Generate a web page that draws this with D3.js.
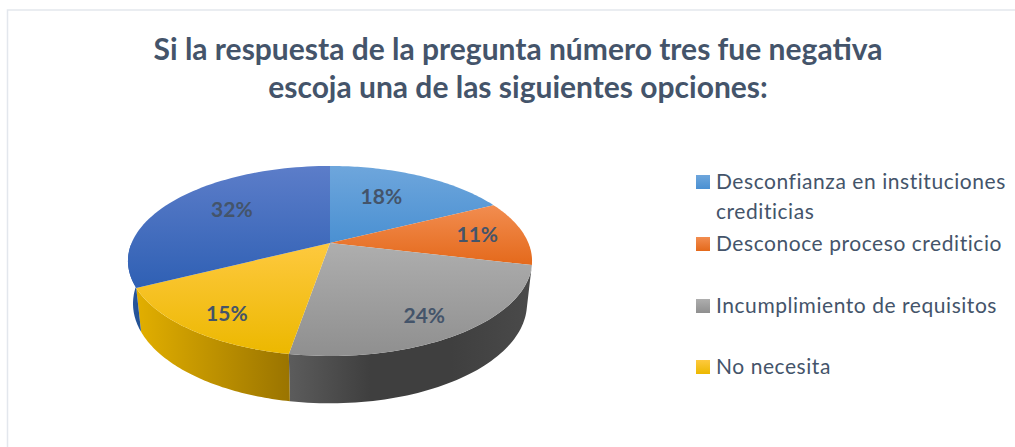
<!DOCTYPE html>
<html><head><meta charset="utf-8">
<script src="https://cdn.jsdelivr.net/npm/d3@7"></script>
<style>html,body{margin:0;padding:0;background:#fff}svg{display:block}text{font-family:Lato,"Open Sans",sans-serif;fill:#44546a}</style>
</head><body><svg id="c" width="1015" height="447"></svg>
<script>
const titleLines=["Si la respuesta de la pregunta número tres fue negativa","escoja una de las siguientes opciones:"];
const legendLines=[["Desconfianza en instituciones","crediticias"],["Desconoce proceso crediticio"],["Incumplimiento de requisitos"],["No necesita"]];
const values=[17.6,11.1,24,14.9,32.4];
const topColors=[["#6ea6dc","#4a90d2"],["#f28d50","#e4691b"],["#aeaeae","#8f8f8f"],["#fec93f","#ecb800"],["#5c7dc9","#2f60b4"]];
const wallColors=[null,null,["#5c5c5c","#3f3f3f","#3f3f3f","#4a4a4a"],["#e2af00","#9a7400"],["#2a5aa8","#23508f"]];
const labelNudge=[[-10,0],[21,-1],[15,18],[-18,18],[5,-4]];

const svg=d3.select("#c");
const defs=svg.append("defs");
const cx=330,cy=243,A=198.4,B=91.6,K=0.189;
function proj(a,r=1){const X=r*Math.sin(a),Y=-r*Math.cos(a),w=1-K*Y;return [cx+A*X/w,cy+B*Y/w];}
function low(p){return [cx+(p[0]-cx)*0.975,p[1]+44+(p[1]-288)*0.05];}
const pie=d3.pie().sort(null).value(d=>d);
const arcs=pie(values);
const pts=(a0,a1,n=60)=>d3.range(n+1).map(i=>a0+(a1-a0)*i/n);
const line=d3.line();

// frame
svg.append("path").attr("d",line([[7.5,447],[7.5,10],[1015,10]])).attr("fill","none").attr("stroke","#e3e7ed").attr("stroke-width",1.5);

// walls
const backLimit=Math.PI*1.5;
[2,3,4].forEach(i=>{
  const d=arcs[i];
  const a1=Math.min(d.endAngle,backLimit);
  const rim=pts(d.startAngle,a1).map(a=>proj(a));
  const bottom=rim.map(low).reverse();
  const xs=rim.concat(bottom).map(p=>p[0]);
  const id="w"+i;
  const g=defs.append("linearGradient").attr("id",id).attr("gradientUnits","userSpaceOnUse")
    .attr("x1",d3.min(xs)).attr("x2",d3.max(xs)).attr("y1",0).attr("y2",0);
  const cols=wallColors[i];
  cols.forEach((c,j)=>g.append("stop").attr("offset",j/(cols.length-1)).attr("stop-color",c));
  svg.append("path").attr("d",line(rim.concat(bottom))+"Z").attr("fill",`url(#${id})`);
});

// top faces
arcs.forEach((d,i)=>{
  const id="t"+i;
  const g=defs.append("linearGradient").attr("id",id).attr("x1",0).attr("x2",0).attr("y1",0).attr("y2",1);
  topColors[i].forEach((c,j)=>g.append("stop").attr("offset",j).attr("stop-color",c));
  const outline=[[cx,cy]].concat(pts(d.startAngle,d.endAngle).map(a=>proj(a)));
  svg.append("path").attr("d",line(outline)+"Z").attr("fill",`url(#${id})`);
});

// data labels
const fmt=v=>Math.round(v/d3.sum(values)*100)+"%";
arcs.forEach((d,i)=>{
  const p=proj((d.startAngle+d.endAngle)/2,0.65);
  svg.append("text").attr("x",p[0]+labelNudge[i][0]).attr("y",p[1]+labelNudge[i][1]+7)
    .attr("text-anchor","middle").attr("font-size",21).attr("font-weight",700).text(fmt(d.value));
});

// title
const tf=svg.append("g").attr("font-weight",700).attr("font-size",30).attr("text-anchor","middle");
titleLines.forEach((t,i)=>tf.append("text").attr("x",518).attr("y",[60,98][i]).text(t));

// legend
const swatchY=[175,237,299,360], lh=30;
legendLines.forEach((ls,i)=>{
  const id="l"+i;
  const g=defs.append("linearGradient").attr("id",id).attr("x1",0).attr("x2",0).attr("y1",0).attr("y2",1);
  topColors[i].forEach((c,j)=>g.append("stop").attr("offset",j).attr("stop-color",c));
  svg.append("rect").attr("x",696).attr("y",swatchY[i]).attr("width",14).attr("height",14).attr("fill",`url(#${id})`);
  ls.forEach((t,j)=>svg.append("text").attr("x",716).attr("y",swatchY[i]+14+j*lh)
    .attr("font-size",21).attr("letter-spacing",0.55).text(t));
});
</script></body></html>
